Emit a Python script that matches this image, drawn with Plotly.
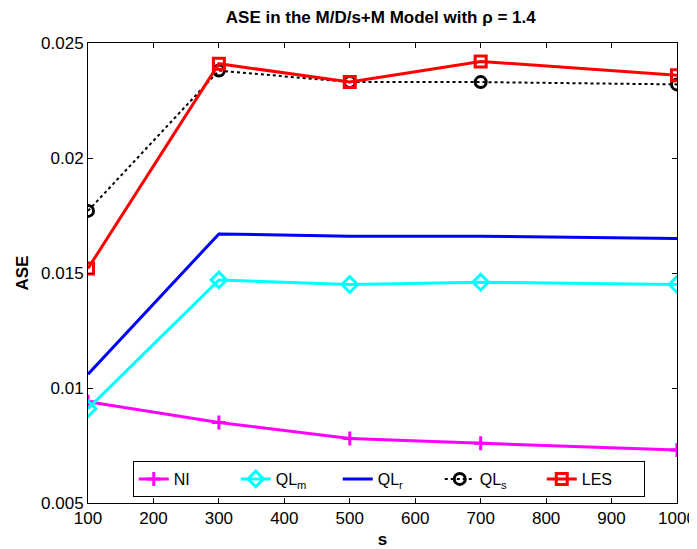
import plotly.graph_objects as go

s = [100, 300, 500, 700, 1000]
ni = [0.0094, 0.0085, 0.0078, 0.0076, 0.0073]
ql_m = [0.0091, 0.0147, 0.0145, 0.0146, 0.0145]
ql_r = [0.0106, 0.0167, 0.0166, 0.0166, 0.0165]
ql_s = [0.0177, 0.0238, 0.0233, 0.0233, 0.0232]
les = [0.0152, 0.0241, 0.0233, 0.0242, 0.0236]

fig = go.Figure()
fig.add_trace(go.Scatter(x=s, y=ni, name="NI", mode="lines+markers",
                         line=dict(color="#ff00ff", width=3),
                         marker=dict(symbol="cross-thin", size=10, line=dict(color="#ff00ff", width=3))))
fig.add_trace(go.Scatter(x=s, y=ql_m, name="QL<sub>m</sub>", mode="lines+markers",
                         line=dict(color="#00ffff", width=3),
                         marker=dict(symbol="diamond-open", size=12, line=dict(color="#00ffff", width=3))))
fig.add_trace(go.Scatter(x=s, y=ql_r, name="QL<sub>r</sub>", mode="lines",
                         line=dict(color="#0000ff", width=3)))
fig.add_trace(go.Scatter(x=s, y=ql_s, name="QL<sub>s</sub>", mode="lines+markers",
                         line=dict(color="black", width=2, dash="dot"),
                         marker=dict(symbol="circle-open", size=11, line=dict(color="black", width=3))))
fig.add_trace(go.Scatter(x=s, y=les, name="LES", mode="lines+markers",
                         line=dict(color="#ff0000", width=3),
                         marker=dict(symbol="square-open", size=11, line=dict(color="#ff0000", width=3))))

axis_common = dict(showline=True, linecolor="black", linewidth=1, mirror="ticks",
                   ticks="inside", ticklen=5, tickcolor="black", showgrid=False, zeroline=False,
                   automargin=False, tickfont=dict(size=17, color="black"))

fig.update_layout(
    width=689, height=541,
    margin=dict(l=80, r=20, t=35, b=46),
    paper_bgcolor="white", plot_bgcolor="white",
    font=dict(family="Liberation Sans, Arial, sans-serif", color="black"),
    title=dict(text="<b>ASE in the M/D/s+M Model with \u03c1 = 1.4</b>", x=0.541, xanchor="center",
               y=0.984, yanchor="middle", font=dict(size=17), automargin=False),
    xaxis=dict(range=[100, 1000], tickvals=[100, 200, 300, 400, 500, 600, 700, 800, 900, 1000],
               title=dict(text="<b>s</b>", font=dict(size=17), standoff=6), **axis_common),
    yaxis=dict(range=[0.005, 0.025], tickvals=[0.005, 0.01, 0.015, 0.02, 0.025],
               ticktext=["0.005", "0.01", "0.015", "0.02", "0.025"],
               title=dict(text="<b>ASE</b>", font=dict(size=17), standoff=8), **axis_common),
    legend=dict(orientation="h", x=0.076, y=0.013, xanchor="left", yanchor="bottom",
                bordercolor="black", borderwidth=1, bgcolor="white",
                font=dict(size=16), itemwidth=30, entrywidth=57, tracegroupgap=0),
    showlegend=True,
)

fig.write_html("out.html")
